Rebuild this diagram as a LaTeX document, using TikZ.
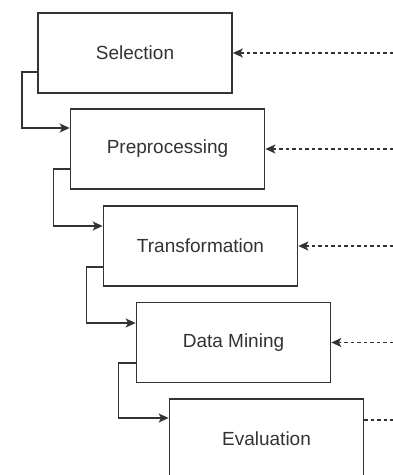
\documentclass[tikz,border=0pt]{standalone}
\usepackage{fontspec}
\setmainfont{Liberation Sans}
\usetikzlibrary{arrows.meta}
\definecolor{linegray}{HTML}{333333}
\definecolor{txtgray}{HTML}{333333}
\begin{document}
\begin{tikzpicture}[x=1pt,y=-1pt,
  stage/.style={draw=linegray, line width=1.7pt, fill=white, rectangle,
    minimum width=194pt, minimum height=80pt, inner sep=0pt,
    font=\fontsize{19}{23}\selectfont, text=txtgray},
  flow/.style={draw=linegray, line width=1.5pt, -{Stealth[length=10pt,width=9pt,inset=2.5pt]}},
  feedback/.style={draw=linegray, line width=1.3pt, dash pattern=on 3.5pt off 3pt,
    -{Stealth[length=10pt,width=9pt,inset=2.5pt]}},
  feedbackline/.style={draw=linegray, line width=1.3pt, dash pattern=on 3.5pt off 3pt}]
\useasboundingbox (0,0) rectangle (393,475);
\clip (0,0) rectangle (393,475);
\fill[white] (0,0) rectangle (393,475);

\node[stage] (sel) at (135,53) {Selection};
\node[stage] (pre) at (167.5,149) {Preprocessing};
\node[stage] (tra) at (200.5,246) {Transformation};
\node[stage] (dm)  at (233.5,342.5) {Data Mining};
\node[stage] (ev)  at (266.5,439) {Evaluation};

% solid step connectors
\draw[flow] ([yshift=-19pt]sel.west) -| ++(-15,0) |- ([yshift=21pt]pre.west);
\draw[flow] ([yshift=-20pt]pre.west) -| ++(-16,0) |- ([yshift=20pt]tra.west);
\draw[flow] ([yshift=-21pt]tra.west) -| ++(-16,0) |- ([yshift=19.5pt]dm.west);
\draw[flow] ([yshift=-20.5pt]dm.west) -| ++(-17,0) |- ([yshift=21pt]ev.west);

% dashed feedback arrows from the right edge
\coordinate (r1) at (393,53);
\coordinate (r2) at (393,149);
\coordinate (r3) at (393,246);
\coordinate (r4) at (393,342.5);
\coordinate (r5) at (393,420);
\draw[feedback] (r1) -- (sel.east);
\draw[feedback] (r2) -- (pre.east);
\draw[feedback] (r3) -- (tra.east);
\draw[feedback] (r4) -- (dm.east);
\draw[feedbackline] (ev.east |- r5) -- (r5);
\end{tikzpicture}
\end{document}
